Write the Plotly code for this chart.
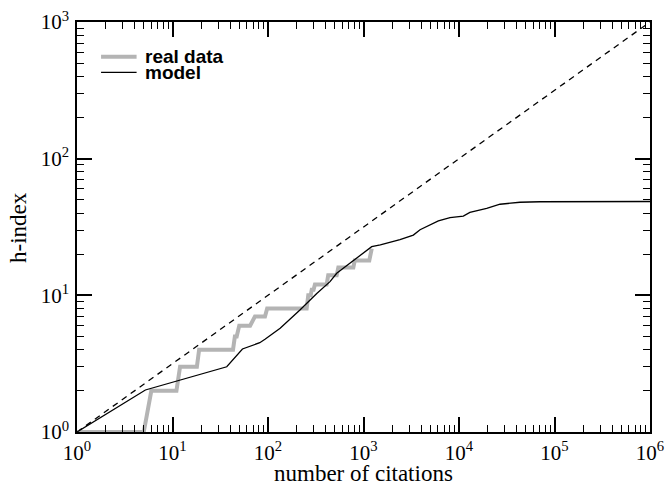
import plotly.graph_objects as go

# ---- data ----
real_x = [1, 5, 6, 11, 12, 18, 19, 43, 45, 47, 50, 65, 73, 93, 98, 254, 264, 280, 287, 300, 310, 411, 427, 524, 545, 783, 810, 1150, 1220]
real_h = [1, 1, 2, 2, 3, 3, 4, 4, 5, 5, 6, 6, 7, 7, 8, 8, 10, 10, 11, 11, 12, 12, 14, 14, 16, 16, 18, 18, 22]

model_x = [1, 5.2, 37, 54, 82, 93, 134, 216, 324, 446, 524, 650, 783, 1000, 1218, 1500, 1892, 2410, 3325, 3600, 3910,
           6080, 8050, 11100, 13000, 19500, 26900, 43500, 70500, 1e6]
model_h = [1, 2.03, 3.0, 4.05, 4.5, 4.77, 5.74, 7.8, 10.3, 12.6, 14.5, 16.2, 18.0, 20.3, 22.7, 23.4, 24.3, 25.6, 27.6, 28.8, 30.2,
           35.0, 37.1, 38.0, 40.4, 43.2, 46.4, 48.0, 48.4, 48.6]

guide_x = [1, 1e6]
guide_h = [1, 1000]

x_ticks = [1, 10, 100, 1000, 1e4, 1e5, 1e6]
x_ticktext = ["10<sup>0</sup>", "10<sup>1</sup>", "10<sup>2</sup>", "10<sup>3</sup>",
              "10<sup>4</sup>", "10<sup>5</sup>", "10<sup>6</sup>"]
y_ticks = [1, 10, 100, 1000]
y_ticktext = ["10<sup>0</sup>", "10<sup>1</sup>", "10<sup>2</sup>", "10<sup>3</sup>"]

x_title = "number of citations"
y_title = "h-index"

legend_names = ["real data", "model"]
legend_colors = ["#b4b4b4", "black"]
legend_widths = [4, 1.3]

x_minor = [m * 10 ** k for k in range(0, 6) for m in range(2, 10)]
y_minor = [m * 10 ** k for k in range(0, 3) for m in range(2, 10)]

serif = "Liberation Serif"

fig = go.Figure()
fig.add_trace(go.Scatter(x=guide_x, y=guide_h, mode="lines", showlegend=False,
                         line=dict(color="black", width=1.3, dash="6px,5px")))
fig.add_trace(go.Scatter(x=real_x, y=real_h, mode="lines", name=legend_names[0], showlegend=False,
                         line=dict(color=legend_colors[0], width=legend_widths[0])))
fig.add_trace(go.Scatter(x=model_x, y=model_h, mode="lines", name=legend_names[1], showlegend=False,
                         line=dict(color=legend_colors[1], width=legend_widths[1])))

axis_common = dict(
    type="log", showgrid=False, zeroline=False, automargin=False,
    showline=True, linecolor="black", linewidth=1.5, mirror="allticks",
    ticks="inside", ticklen=15, tickwidth=1.5, tickcolor="black",
    tickfont=dict(family=serif, size=21, color="black"),
    ticklabeloverflow="allow",
)

fig.update_xaxes(range=[0, 6], tickvals=x_ticks, ticktext=x_ticktext,
                 minor=dict(tickvals=x_minor, ticks="inside", ticklen=7, tickwidth=1.2, tickcolor="black", showgrid=False),
                 ticklabelstandoff=1,
                 **axis_common)
fig.update_yaxes(range=[0, 3], tickvals=y_ticks, ticktext=y_ticktext,
                 minor=dict(tickvals=y_minor, ticks="inside", ticklen=7, tickwidth=1.2, tickcolor="black", showgrid=False),
                 ticklabelstandoff=2,
                 **axis_common)

# axis titles placed tightly as in the reference
fig.add_annotation(xref="paper", yref="paper", x=0.5, y=-0.1, text=x_title, showarrow=False,
                   xanchor="center", yanchor="middle", font=dict(family=serif, size=23, color="black"))
fig.add_annotation(xref="paper", yref="paper", x=-0.103, y=0.5, text=y_title, showarrow=False, textangle=-90,
                   xanchor="center", yanchor="middle", font=dict(family=serif, size=23, color="black"))

# manual legend (tight row spacing as in the reference)
leg_x0, leg_x1, leg_tx = 0.042, 0.104, 0.116
leg_rows = [0.915, 0.877]
for name, col, w, yy in zip(legend_names, legend_colors, legend_widths, leg_rows):
    fig.add_shape(type="line", xref="paper", yref="paper", x0=leg_x0, x1=leg_x1, y0=yy, y1=yy,
                  line=dict(color=col, width=w))
    fig.add_annotation(xref="paper", yref="paper", x=leg_tx, y=yy, text=name, showarrow=False,
                       xanchor="left", yanchor="middle",
                       font=dict(family="Liberation Sans", size=19, color="black", weight="bold"))

fig.update_layout(
    width=665, height=484,
    margin=dict(l=77, r=15, t=22, b=52),
    paper_bgcolor="white", plot_bgcolor="white",
    showlegend=False,
)

fig.write_html("out.html", config={"displayModeBar": False},
               post_script="document.body.style.margin='0';document.body.style.overflow='hidden';")
